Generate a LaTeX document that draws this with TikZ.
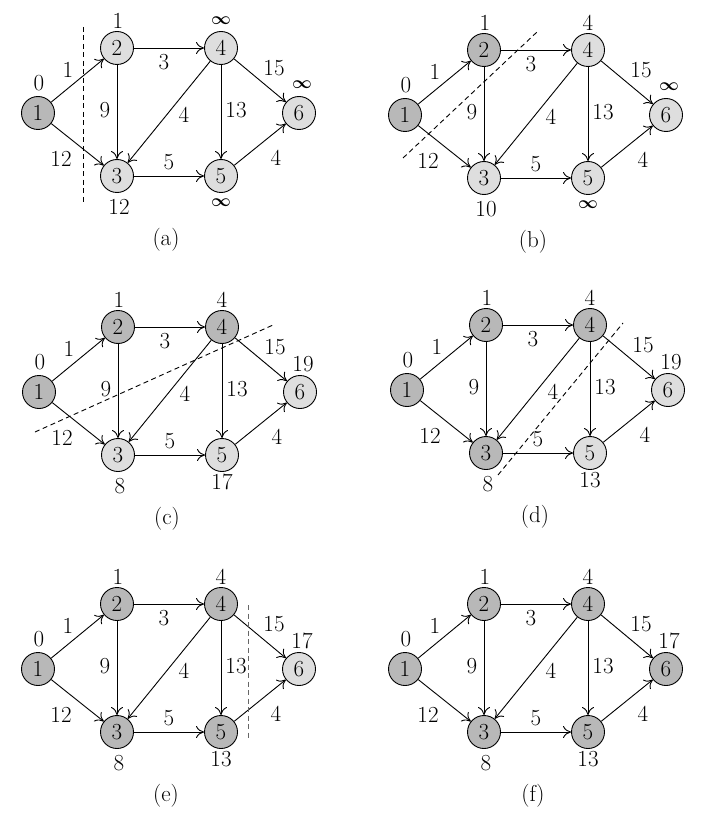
\documentclass[tikz,border=0pt]{standalone}
\usepackage{amsmath}
\usetikzlibrary{arrows.meta}
\tikzset{
  vx/.style={circle,draw,line width=0.9pt,minimum size=33pt,inner sep=0pt,font=\fontsize{23}{27}\selectfont},
  vis/.style={vx,fill=black!28},
  unv/.style={vx,fill=black!13},
  ed/.style={line width=0.9pt,-{To[length=8pt,width=12pt]}},
  lab/.style={font=\fontsize{23}{27}\selectfont,inner sep=0pt},
  cut/.style={line width=0.9pt,dash pattern=on 5pt off 3.5pt},
}
% #1 prefix, #2..#6 styles of nodes 2..6, #7 caption letter
\newcommand\gpanel[7]{%
  \node[vis] (#1n1) at (0,0) {1};
  \node[#2] (#1n2) at (79,-65) {2};
  \node[#4] (#1n4) at (183,-65) {4};
  \node[#3] (#1n3) at (79,63) {3};
  \node[#5] (#1n5) at (183,63) {5};
  \node[#6] (#1n6) at (261,0) {6};
  \draw[ed] (#1n1) -- (#1n2);
  \draw[ed] (#1n1) -- (#1n3);
  \draw[ed] (#1n2) -- (#1n4);
  \draw[ed] (#1n2) -- (#1n3);
  \draw[ed] (#1n4) -- (#1n3);
  \draw[ed] (#1n4) -- (#1n5);
  \draw[ed] (#1n4) -- (#1n6);
  \draw[ed] (#1n3) -- (#1n5);
  \draw[ed] (#1n5) -- (#1n6);
  \node[lab] (#1w12) at (30,-43) {1};
  \node[lab] (#1w24) at (126,-51) {3};
  \node[lab] (#1w46) at (236,-45) {15};
  \node[lab] (#1w23) at (67,-3) {9};
  \node[lab] (#1w43) at (146,2) {4};
  \node[lab] (#1w45) at (198,-3) {13};
  \node[lab] (#1w13) at (23,46) {12};
  \node[lab] (#1w35) at (131,49) {5};
  \node[lab] (#1w56) at (238,45) {4};
  \node[lab] (#1cap) at (128,127) {(#7)};
}
% #1 prefix, #2..#7 distances of nodes 1..6
\newcommand\gdist[7]{%
  \node[lab] (#1d1) at (1,-30) {#2};
  \node[lab] (#1d2) at (80,-92) {#3};
  \node[lab] (#1d4) at (183,-92) {#5};
  \node[lab] (#1d3) at (81,94) {#4};
  \node[lab] (#1d5) at (183,90) {#6};
  \node[lab] (#1d6) at (264,-28) {#7};
}
\newcommand\infy{{\fontsize{18}{20}\selectfont$\boldsymbol{\infty}$}}
\begin{document}
\begin{tikzpicture}[x=1pt,y=-1pt]
\useasboundingbox (0,0) rectangle (705,834);
% (a)
\begin{scope}[shift={(38,113)}]
  \gpanel{a}{unv}{unv}{unv}{unv}{unv}{a}
  \gdist{a}{0}{1}{12}{\infy}{\infy}{\infy}
  \coordinate (acA) at (45,-86);
  \coordinate (acB) at (45,92);
  \draw[cut] (acA) -- (acB);
\end{scope}
% (b)
\begin{scope}[shift={(405,115)}]
  \gpanel{b}{vis}{unv}{unv}{unv}{unv}{b}
  \gdist{b}{0}{1}{10}{4}{\infy}{\infy}
  \coordinate (bcA) at (-2,43);
  \coordinate (bcB) at (132,-83);
  \draw[cut] (bcA) -- (bcB);
\end{scope}
% (c)
\begin{scope}[shift={(39,392)}]
  \gpanel{c}{vis}{unv}{vis}{unv}{unv}{c}
  \gdist{c}{0}{1}{8}{4}{17}{19}
  \coordinate (ccA) at (-4,40);
  \coordinate (ccB) at (234,-67);
  \draw[cut] (ccA) -- (ccB);
\end{scope}
% (d)
\begin{scope}[shift={(407,390)}]
  \gpanel{d}{vis}{vis}{vis}{unv}{unv}{d}
  \gdist{d}{0}{1}{8}{4}{13}{19}
  \coordinate (dcA) at (91,85);
  \coordinate (dcB) at (216,-67);
  \draw[cut] (dcA) -- (dcB);
\end{scope}
% (e)
\begin{scope}[shift={(38,669)}]
  \gpanel{e}{vis}{vis}{vis}{vis}{unv}{e}
  \gdist{e}{0}{1}{8}{4}{13}{17}
  \coordinate (ecA) at (210,-64);
  \coordinate (ecB) at (210,69);
  \draw[cut,black!60] (ecA) -- (ecB);
\end{scope}
% (f)
\begin{scope}[shift={(405,669)}]
  \gpanel{f}{vis}{vis}{vis}{vis}{vis}{f}
  \gdist{f}{0}{1}{8}{4}{13}{17}
\end{scope}
\end{tikzpicture}
\end{document}
